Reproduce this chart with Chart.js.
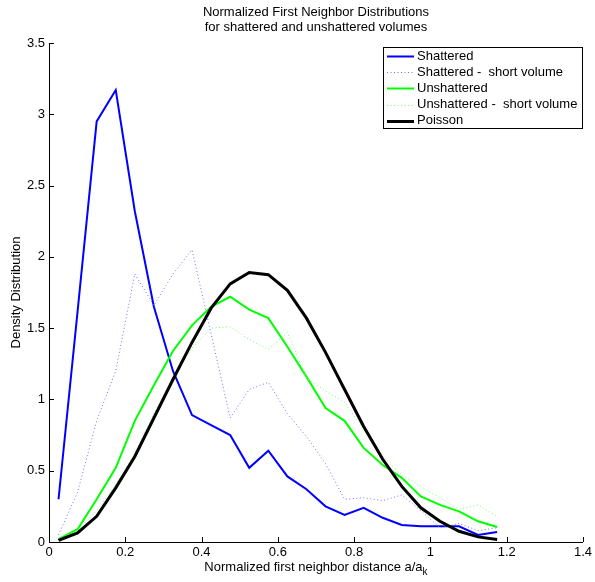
<!DOCTYPE html>
<html>
<head>
<meta charset="utf-8">
<title>Normalized First Neighbor Distributions</title>
<script src="https://cdn.jsdelivr.net/npm/chart.js@4.4.1/dist/chart.umd.min.js"></script>
<style>
  html, body { margin: 0; padding: 0; background: #fff; }
  #chart { display: block; }
</style>
</head>
<body>
<canvas id="chart" width="595" height="582"></canvas>
<script>
// bin centres of the normalized first neighbor distance a/a_k
const dist = [0.025, 0.075, 0.125, 0.175, 0.225, 0.275, 0.325, 0.375, 0.425, 0.475, 0.525, 0.575,
              0.625, 0.675, 0.725, 0.775, 0.825, 0.875, 0.925, 0.975, 1.025, 1.075, 1.125, 1.175];

const shattered      = [0.30, 1.62, 2.95, 3.17, 2.32, 1.65, 1.20, 0.89, 0.82, 0.75, 0.52, 0.64,
                        0.46, 0.37, 0.25, 0.19, 0.24, 0.17, 0.12, 0.11, 0.11, 0.11, 0.05, 0.07];
const shatteredShort = [0.05, 0.35, 0.85, 1.20, 1.88, 1.66, 1.88, 2.05, 1.46, 0.87, 1.07, 1.12,
                        0.90, 0.74, 0.55, 0.30, 0.31, 0.29, 0.33, 0.22, 0.10, 0.13, 0.08, 0.10];
const unshattered    = [0.02, 0.09, 0.30, 0.52, 0.85, 1.10, 1.34, 1.52, 1.65, 1.72, 1.63, 1.57,
                        1.37, 1.16, 0.94, 0.85, 0.66, 0.54, 0.45, 0.32, 0.26, 0.215, 0.145, 0.105];
const unshatteredShort = [0.02, 0.08, 0.22, 0.40, 0.62, 0.90, 1.15, 1.36, 1.50, 1.51, 1.42, 1.35,
                          1.47, 1.15, 1.06, 0.98, 0.79, 0.60, 0.47, 0.39, 0.31, 0.23, 0.26, 0.18];
const poisson        = [0.012, 0.064, 0.18, 0.38, 0.60, 0.87, 1.14, 1.40, 1.64, 1.81, 1.89, 1.875,
                        1.765, 1.57, 1.33, 1.07, 0.81, 0.58, 0.39, 0.24, 0.145, 0.075, 0.036, 0.017];

const seriesNames = ['Shattered', 'Shattered -  short volume', 'Unshattered',
                     'Unshattered -  short volume', 'Poisson'];
const titleLines = ['Normalized First Neighbor Distributions', 'for shattered and unshattered volumes'];
const xLabel = 'Normalized first neighbor distance a/a';
const xLabelSub = 'k';
const yLabel = 'Density Distribution';

const FAMILY = '"Liberation Sans", Arial, sans-serif';

function pts(arr) {
  return dist.map((x, i) => ({ x: x, y: arr[i] }));
}

// matlab style tick text: 0, 0.5, 1, 1.5 ...
function tickText(v) {
  return String(+v.toFixed(2));
}

const datasets = [
  { label: seriesNames[0], data: pts(shattered), borderColor: '#0000ff', borderWidth: 2, order: 4 },
  { label: seriesNames[1], data: pts(shatteredShort), borderColor: '#7070ff', borderWidth: 1,
    borderDash: [1, 2.5], order: 3 },
  { label: seriesNames[2], data: pts(unshattered), borderColor: '#00ff00', borderWidth: 2, order: 2 },
  { label: seriesNames[3], data: pts(unshatteredShort), borderColor: '#70ff70', borderWidth: 1,
    borderDash: [1, 2.5], order: 1 },
  { label: seriesNames[4], data: pts(poisson), borderColor: '#000000', borderWidth: 3, order: 0 }
];
datasets.forEach(d => { d.pointRadius = 0; d.tension = 0; d.fill = false; });

// ticks pointing into the plot, title, subscripted x label and the boxed legend
const extras = {
  id: 'extras',
  afterDraw(chart) {
    const ctx = chart.ctx, area = chart.chartArea;
    const xs = chart.scales.x, ys = chart.scales.y;
    ctx.save();
    ctx.strokeStyle = '#000';
    ctx.lineWidth = 1;
    ctx.beginPath();
    xs.ticks.forEach(t => {
      const px = Math.round(xs.getPixelForValue(t.value)) + 0.5;
      ctx.moveTo(px, area.bottom);
      ctx.lineTo(px, area.bottom - 5);
    });
    ys.ticks.forEach(t => {
      const py = Math.round(ys.getPixelForValue(t.value)) + 0.5;
      ctx.moveTo(area.left, py);
      ctx.lineTo(area.left + 5, py);
    });
    ctx.stroke();

    const cx = (area.left + area.right) / 2;
    ctx.fillStyle = '#000';
    ctx.font = '13px ' + FAMILY;
    ctx.textAlign = 'center';
    ctx.textBaseline = 'middle';
    titleLines.forEach((s, i) => ctx.fillText(s, cx, 12 + i * 15));

    // x label with subscript k
    const wMain = ctx.measureText(xLabel).width;
    ctx.font = '10px ' + FAMILY;
    const wSub = ctx.measureText(xLabelSub).width;
    const x0 = cx - (wMain + wSub) / 2;
    ctx.textAlign = 'left';
    ctx.textBaseline = 'alphabetic';
    ctx.font = '13px ' + FAMILY;
    ctx.fillText(xLabel, x0, 571);
    ctx.font = '10px ' + FAMILY;
    ctx.fillText(xLabelSub, x0 + wMain, 575);

    // legend
    const lx = 383, ly = 47, lw = 199, lh = 81;
    ctx.fillStyle = '#fff';
    ctx.fillRect(lx, ly, lw, lh);
    ctx.strokeStyle = '#000';
    ctx.lineWidth = 1;
    ctx.strokeRect(lx + 0.5, ly + 0.5, lw, lh);
    ctx.font = '13px ' + FAMILY;
    ctx.textBaseline = 'middle';
    chart.data.datasets.forEach((d, i) => {
      const y = ly + 9 + i * 16.2;
      ctx.save();
      ctx.strokeStyle = d.borderColor;
      ctx.lineWidth = d.borderWidth;
      ctx.setLineDash(d.borderDash || []);
      ctx.beginPath();
      ctx.moveTo(lx + 4, Math.round(y) + 0.5);
      ctx.lineTo(lx + 31, Math.round(y) + 0.5);
      ctx.stroke();
      ctx.restore();
      ctx.fillStyle = '#000';
      ctx.fillText(d.label, lx + 34, y);
    });
    ctx.restore();
  }
};

new Chart(document.getElementById('chart'), {
  type: 'line',
  data: { datasets: datasets },
  options: {
    responsive: false,
    animation: false,
    devicePixelRatio: 1,
    layout: { padding: { top: 43, right: 10, left: 0, bottom: 0 } },
    plugins: {
      legend: { display: false },
      title: { display: false },
      tooltip: { enabled: false }
    },
    scales: {
      x: {
        type: 'linear',
        min: 0,
        max: 1.4,
        ticks: { stepSize: 0.2, color: '#000', padding: 3, maxRotation: 0,
                 font: { family: FAMILY, size: 13 }, callback: tickText },
        grid: { drawOnChartArea: false, drawTicks: false },
        border: { color: '#000', width: 1 },
        afterFit(scale) { scale.height = 40; }
      },
      y: {
        min: 0,
        max: 3.5,
        ticks: { stepSize: 0.5, color: '#000', padding: 4,
                 font: { family: FAMILY, size: 13 }, callback: tickText },
        grid: { drawOnChartArea: false, drawTicks: false },
        border: { color: '#000', width: 1 },
        title: { display: true, text: yLabel, color: '#000', padding: { top: 9, bottom: 0 },
                 font: { family: FAMILY, size: 13 } },
        afterFit(scale) { scale.width = 49; }
      }
    }
  },
  plugins: [extras]
});
</script>
</body>
</html>
